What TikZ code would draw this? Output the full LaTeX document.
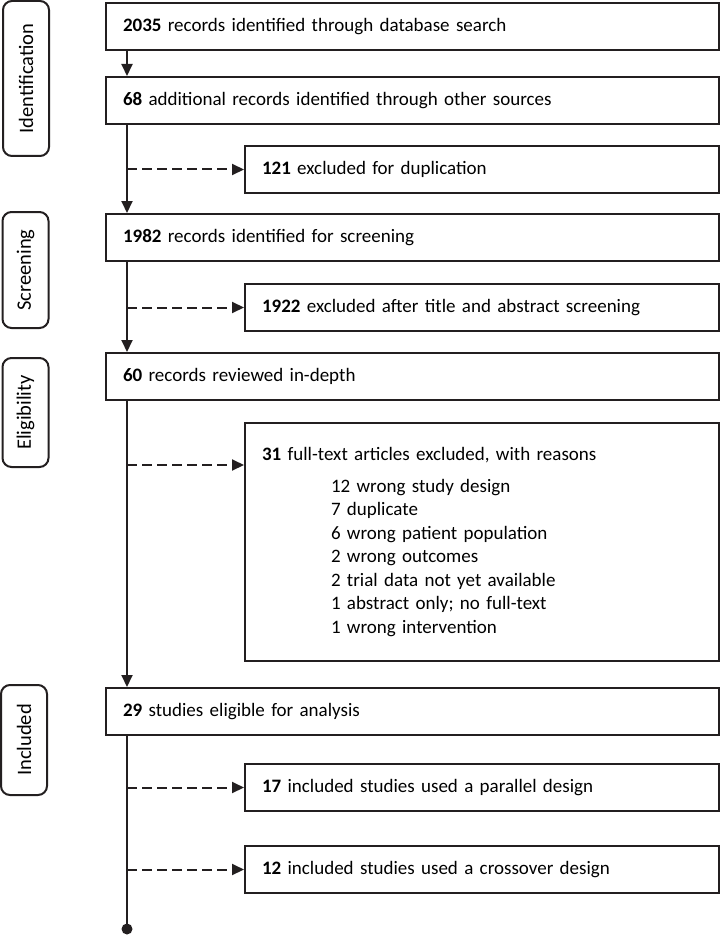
\documentclass[tikz,border=0pt]{standalone}
\usepackage{fontspec}
\setmainfont{Carlito}
\usepackage{tikz}
\usetikzlibrary{arrows.meta,calc}
\definecolor{flow_black}{HTML}{231F20}

\begin{document}
\begin{tikzpicture}[x=1pt, y=-1pt, font=\fontsize{19}{23.5}\selectfont,
    mainbox/.style={draw=flow_black, line width=2pt, rectangle, anchor=north west, minimum height=47pt, text width=579pt, inner xsep=17pt, inner ysep=0pt, align=left},
    exclbox/.style={mainbox, text width=440pt},
    stage/.style={draw=flow_black, line width=2pt, rounded corners=9pt, rotate=90, minimum height=46pt, inner sep=0pt, font=\fontsize{20.5}{24}\selectfont},
    flow/.style={flow_black, line width=2pt, -{Triangle[length=12pt,width=11pt]}},
    side/.style={flow, dash pattern=on 10pt off 5pt}]
                \useasboundingbox (0,0) rectangle (722,936);

                \node[stage, minimum width=155pt] (ident) at (26,78.5) {Identification};
                \node[stage, minimum width=116pt] (screen) at (25.5,270) {Screening};
                \node[stage, minimum width=109pt] (elig) at (25.5,412.5) {Eligibility};
                \node[stage, minimum width=110pt] (incl) at (24,740) {Included};

                \node[mainbox] (rec2035) at (105,2) {{\bfseries 2035} records identified through database search};
                \node[mainbox] (rec68) at (105,76) {{\bfseries 68} additional records identified through other sources};
                \node[exclbox] (excl121) at (244,145) {{\bfseries 121} excluded for duplication};
                \node[mainbox] (rec1982) at (105,213) {{\bfseries 1982} records identified for screening};
                \node[exclbox] (excl1922) at (244,283) {{\bfseries 1922} excluded after title and abstract screening};
                \node[mainbox] (rec60) at (105,352) {{\bfseries 60} records reviewed in-depth};
                \node[exclbox, minimum height=238pt] (excl31) at (244,422) {{\bfseries 31} full-text articles excluded, with reasons\\[8.5pt]
                    \hspace*{69pt}12 wrong study design\\
                    \hspace*{69pt}7 duplicate\\
                    \hspace*{69pt}6 wrong patient population\\
                    \hspace*{69pt}2 wrong outcomes\\
                    \hspace*{69pt}2 trial data not yet available\\
                    \hspace*{69pt}1 abstract only; no full-text\\
                    \hspace*{69pt}1 wrong intervention};
                \node[mainbox] (rec29) at (105,687) {{\bfseries 29} studies eligible for analysis};
                \node[exclbox] (incl17) at (244,763) {{\bfseries 17} included studies used a parallel design};
                \node[exclbox] (incl12) at (244,845) {{\bfseries 12} included studies used a crossover design};

                \coordinate (trunk) at (127,0);
                \coordinate (why) at ($(excl31.north west)+(0,43)$);
                \coordinate (trunkend) at (127,929);

                \draw[flow] (rec2035.south -| trunk) -- (rec68.north -| trunk);
                \draw[flow] (rec68.south -| trunk) -- (rec1982.north -| trunk);
                \draw[side] (excl121.west -| trunk) -- (excl121.west);
                \draw[flow] (rec1982.south -| trunk) -- (rec60.north -| trunk);
                \draw[side] (excl1922.west -| trunk) -- (excl1922.west);
                \draw[flow] (rec60.south -| trunk) -- (rec29.north -| trunk);
                \draw[side] (why -| trunk) -- (why);
                \draw[flow_black, line width=2pt] (rec29.south -| trunk) -- (trunkend);
                \draw[side] (incl17.west -| trunk) -- (incl17.west);
                \draw[side] (incl12.west -| trunk) -- (incl12.west);
                \fill[flow_black] (trunkend) circle[radius=5.5pt];
            \end{tikzpicture}
\end{document}
